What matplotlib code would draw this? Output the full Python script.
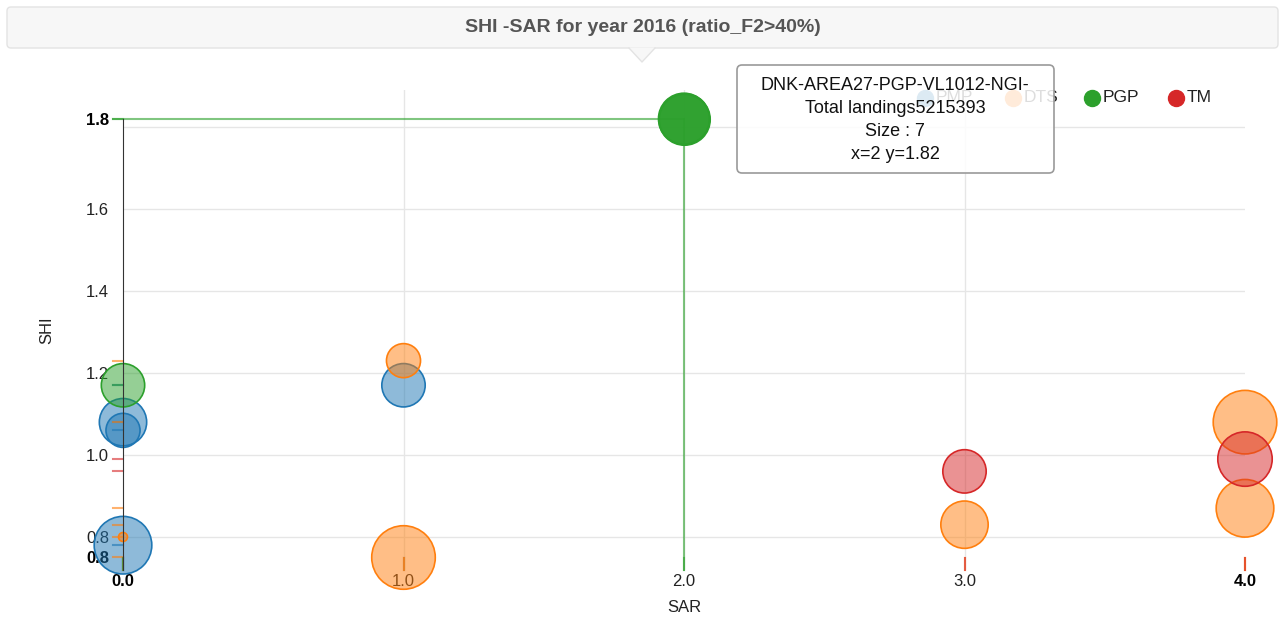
import numpy as np
import matplotlib
matplotlib.use('Agg')
import matplotlib.pyplot as plt
from matplotlib.patches import FancyBboxPatch, Polygon

plt.rcParams['font.family'] = ['Liberation Sans', 'DejaVu Sans']

# data: SAR (x), SHI (y), bubble size per gear group
series_names = ['PMP', 'DTS', 'PGP', 'TM']
series_colors = ['#1f77b4', '#ff7f0e', '#2ca02c', '#d62728']

pmp_x = [0, 0, 0, 1]
pmp_y = [1.08, 1.06, 0.78, 1.17]
pmp_size = [6, 3, 9, 5]

dts_x = [0, 1, 1, 3, 4, 4]
dts_y = [0.80, 1.23, 0.75, 0.83, 1.08, 0.87]
dts_size = [0, 3, 11, 6, 11, 9]

pgp_x = [0, 2]
pgp_y = [1.17, 1.82]
pgp_size = [5, 7]

tm_x = [3, 4]
tm_y = [0.96, 0.99]
tm_size = [5, 8]

xs = [pmp_x, dts_x, pgp_x, tm_x]
ys = [pmp_y, dts_y, pgp_y, tm_y]
sizes = [pmp_size, dts_size, pgp_size, tm_size]

# hovered point (tooltip)
hover_x, hover_y = 2, 1.82
tooltip_lines = ['DNK-AREA27-PGP-VL1012-NGI-', 'Total landings5215393', 'Size : 7', 'x=2 y=1.82']

title = 'SHI -SAR for year 2016 (ratio_F2>40%)'
x_ticks = [0, 1, 2, 3, 4]
y_grid = [0.8, 1.0, 1.2, 1.4, 1.6, 1.8]
y_lo, y_hi = 0.7195, 1.890
y_min_val = 0.75

def area(s):
    r = np.sqrt(20 + 90 * np.asarray(s, dtype=float))  # radius in px
    return (2 * r * 0.72) ** 2

fig = plt.figure(figsize=(12.85, 6.17), dpi=100)
ax = fig.add_axes([123/1285, (617-570)/617, (1245-123)/1285, (570-90)/617])
ax.set_xlim(0, 4)
ax.set_ylim(y_lo, y_hi)
for sp in ['top', 'right', 'bottom']:
    ax.spines[sp].set_visible(False)
ax.spines['left'].set_bounds(y_lo, hover_y)
ax.spines['left'].set_color('#333333')
ax.spines['left'].set_zorder(6)

# grid
for g in y_grid:
    ax.axhline(g, color='#e6e6e6', lw=1, zorder=0)
for g in x_ticks[1:-1]:
    ax.axvline(g, color='#e6e6e6', lw=1, zorder=0)

# ticks
ax.tick_params(length=0, labelsize=12, colors='#222222')
ax.set_xticks(x_ticks)
ax.set_xticklabels(['%.1f' % v for v in x_ticks])
for i, lab in enumerate(ax.get_xticklabels()):
    if i in (0, len(x_ticks) - 1):
        lab.set_fontweight('bold')
        lab.set_color('#000000')
yt = [y_min_val, 0.8, 1.0, 1.2, 1.4, 1.6, hover_y]
ax.set_yticks(yt)
ax.set_yticklabels(['%.1f' % v for v in yt])
for i, lab in enumerate(ax.get_yticklabels()):
    if i in (0, len(yt) - 1):
        lab.set_fontweight('bold')
        lab.set_color('#000000')
ax.tick_params(axis='y', pad=10)
ax.tick_params(axis='x', pad=3)
ax.set_xlabel('SAR', fontsize=12, color='#222222', labelpad=8)
ax.set_ylabel('SHI', fontsize=12, color='#222222', labelpad=23)

# bubbles
for k in range(4):
    c = series_colors[k]
    ax.scatter(xs[k], ys[k], s=area(sizes[k]), facecolor=matplotlib.colors.to_rgba(c, 0.5),
               edgecolor=c, lw=1.2, zorder=3 + k * 0.1, clip_on=False)

# distribution rugs
dx = 10 / 280.25
dy = 12 / 410.0
for k in range(4):
    c = series_colors[k]
    for x, y in zip(xs[k], ys[k]):
        ax.plot([-dx, 0], [y, y], color=c, lw=1.5, alpha=0.6, clip_on=False, zorder=5)
        ax.plot([x, x], [y_lo, y_lo + dy], color=c, lw=1.5, alpha=0.6, clip_on=False, zorder=5)

# hover guide lines + hovered bubble
g = series_colors[2]
ax.plot([-dx, hover_x], [hover_y, hover_y], color=g, lw=1.5, alpha=0.6, zorder=2, clip_on=False)
ax.plot([hover_x, hover_x], [hover_y, y_lo], color=g, lw=1.5, alpha=0.6, zorder=2, clip_on=False)
ax.scatter([hover_x], [hover_y], s=area([pgp_size[1]]), facecolor=matplotlib.colors.to_rgba(g, 0.95),
           edgecolor=g, lw=1.5, zorder=4, clip_on=False)

# overlay for title box, legend and tooltip (pixel coordinates)
ov = fig.add_axes([0, 0, 1, 1], zorder=10)
ov.set_xlim(0, 1285)
ov.set_ylim(617, 0)
ov.axis('off')

ov.add_patch(FancyBboxPatch((7, 7), 1271, 41, boxstyle='round,pad=0,rounding_size=4',
                            fc='#f7f7f7', ec='#e3e3e3', lw=1))
ov.add_patch(Polygon([(629, 47.5), (655, 47.5), (642, 62)], closed=True, fc='#f7f7f7', ec='none'))
ov.plot([629, 642, 655], [48, 62, 48], color='#e3e3e3', lw=1)
ov.text(643, 28, title, ha='center', va='center', fontsize=14, fontweight='bold', color='#555555')

leg_x = [925, 1013, 1092, 1176]
for k in range(4):
    ov.scatter([leg_x[k]], [98], s=(2 * 8 * 0.72) ** 2, color=series_colors[k], zorder=2)
    ov.text(leg_x[k] + 11, 98, series_names[k], ha='left', va='center', fontsize=12.5, color='#222222')

ov.add_patch(FancyBboxPatch((737, 65), 317, 108, boxstyle='round,pad=0,rounding_size=5',
                            fc=(1, 1, 1, 0.85), ec='#9a9a9a', lw=1.2, zorder=5))
for i, line in enumerate(tooltip_lines):
    ov.text(895, 86 + i * 22.7, line, ha='center', va='center', fontsize=13, color='#111111', zorder=6)

fig.savefig('out.png', dpi=100)
